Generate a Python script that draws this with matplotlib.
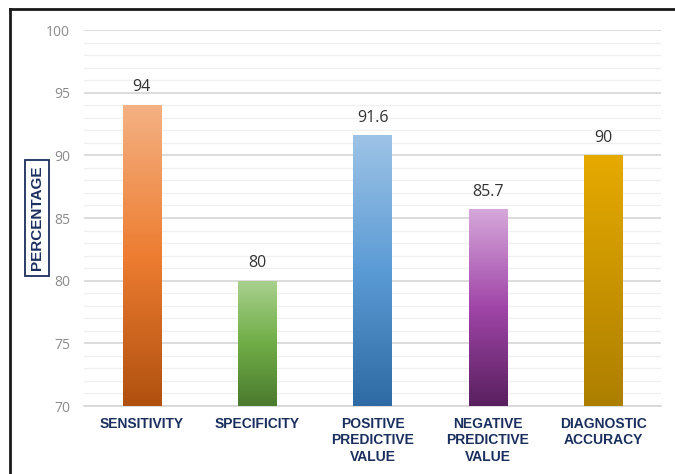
import numpy as np
import matplotlib
matplotlib.use("Agg")
import matplotlib.pyplot as plt
from matplotlib.colors import LinearSegmentedColormap
from matplotlib.lines import Line2D

categories = ["SENSITIVITY", "SPECIFICITY", "POSITIVE\nPREDICTIVE\nVALUE",
              "NEGATIVE\nPREDICTIVE\nVALUE", "DIAGNOSTIC\nACCURACY"]
values = [94, 80, 91.6, 85.7, 90]
value_labels = ["94", "80", "91.6", "85.7", "90"]
yticks = [70, 75, 80, 85, 90, 95, 100]
gradients = [
    ["#F4B183", "#ED7D31", "#B0500F"],
    ["#A9D18E", "#70AD47", "#4A7A2E"],
    ["#9DC3E6", "#5B9BD5", "#2E6AA3"],
    ["#D6A8DA", "#A045A8", "#58205E"],
    ["#E6AA00", "#C99400", "#AD7F00"],
]

navy = "#1B2F5E"
lib = ["Liberation Sans", "DejaVu Sans"]

fig = plt.figure(figsize=(6.75, 4.74), dpi=100)
ax = fig.add_axes([84/675, 1-406/474, (661-84)/675, (406-30)/474])

x = np.arange(len(categories))
bars = ax.bar(x, values, width=0.33, bottom=0, color="none", zorder=3)
ax.set_xlim(-0.5, len(categories)-0.5)
ax.set_ylim(70, 100)

for b, g in zip(bars, gradients):
    cmap = LinearSegmentedColormap.from_list("g", g[::-1])
    grad = np.linspace(0, 1, 256).reshape(-1, 1)
    x0 = b.get_x(); w = b.get_width(); h = b.get_height()
    im = ax.imshow(grad, aspect="auto", cmap=cmap, origin="lower",
                   extent=[x0, x0+w, 70, h], zorder=3)
    im.set_clip_path(b)

for xi, v, lab in zip(x, values, value_labels):
    ax.annotate(lab, (xi, v), xytext=(0, 7), textcoords="offset points",
                ha="center", va="bottom", fontsize=11.5, color="#333333",
                family=["Open Sans", "DejaVu Sans"])

ax.set_yticks(yticks)
ax.set_yticks(np.arange(70, 101, 1), minor=True)
ax.yaxis.grid(True, which="major", color="#D6D6D6", lw=1.2, zorder=0)
ax.yaxis.grid(True, which="minor", color="#F0F0F0", lw=1.0, zorder=0)
ax.tick_params(axis="y", which="both", length=0, pad=10, labelsize=10, labelcolor="#8A8A8A")
for t in ax.get_yticklabels():
    t.set_family(["Open Sans", "DejaVu Sans"])
ax.tick_params(axis="x", length=0, pad=8)
ax.set_xticks(x)
ax.set_xticklabels(categories, fontsize=10, fontweight="bold", color=navy,
                   family=lib, linespacing=1.2, va="top")
for s in ["top", "right", "left"]:
    ax.spines[s].set_visible(False)
ax.spines["bottom"].set_color("#D6D6D6")
ax.spines["bottom"].set_linewidth(1.2)
ax.set_axisbelow(True)

fig.text(37/675, 1-218/474, "PERCENTAGE", rotation=90, ha="center", va="center",
         fontsize=11, fontweight="bold", color=navy, family=lib,
         bbox=dict(boxstyle="square,pad=0.35", fc="white", ec=navy, lw=1.3))

fig.add_artist(Line2D([10/675, 10/675], [0, 1-9/474], transform=fig.transFigure, color="#1a1a1a", lw=2))
fig.add_artist(Line2D([10/675, 1], [1-9/474, 1-9/474], transform=fig.transFigure, color="#1a1a1a", lw=2))

fig.savefig("out.png", dpi=100)
